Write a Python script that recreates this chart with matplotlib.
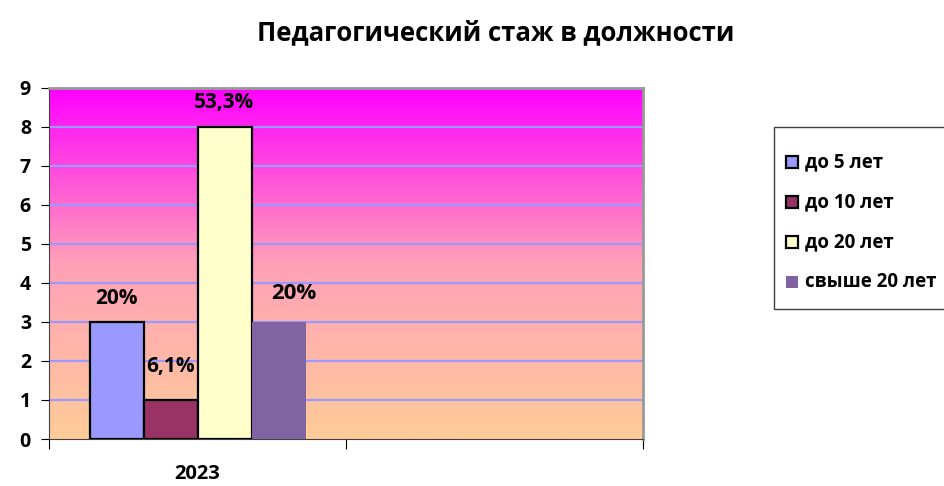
import numpy as np
import matplotlib
matplotlib.use('Agg')
from matplotlib import pyplot as plt
from matplotlib.colors import LinearSegmentedColormap
from matplotlib.patches import Rectangle

plt.rcParams['font.family'] = ['Open Sans', 'DejaVu Sans']
plt.rcParams['font.weight'] = 'bold'

# данные
title = 'Педагогический стаж в должности'
categories = ['2023', '']
series = ['до 5 лет', 'до 10 лет', 'до 20 лет', 'свыше 20 лет']
values = [3, 1, 8, 3]
labels = ['20%', '6,1%', '53,3%', '20%']
colors = ['#9999FF', '#993366', '#FFFFCC', '#8064A2']
edges = ['black', 'black', 'black', 'none']

W, H = 945, 486
fig = plt.figure(figsize=(W / 100, H / 100), dpi=100)
ax = fig.add_axes([0.0519, 0.0967, 0.6285, 0.7223])

# градиентный фон
grad = np.linspace(0, 1, 256).reshape(-1, 1)
cmap = LinearSegmentedColormap.from_list('bg', ['#FFCC99', '#FFA0B8', '#FF00FF'])
ax.imshow(grad, aspect='auto', cmap=cmap, origin='lower',
          extent=[0, 2, 0, 9], zorder=0)

ax.set_xlim(0, 2)
ax.set_ylim(0, 9)

for y in range(1, 9):
    ax.axhline(y, color='#9999FF', lw=1.6, zorder=1)

# столбики
w = 1 / 5.5
offsets = np.array([-1.5, -0.5, 0.5, 1.5]) * w
for i in range(len(series)):
    ax.bar(0.5 + offsets[i], values[i], width=w, color=colors[i],
           edgecolor=edges[i], linewidth=1.6, zorder=3, label=series[i])

# подписи
lab_dx = [0, 0, 0, 0.05]
lab_dy = [0.6, 0.85, 0.62, 0.72]
lab_fs = [15, 15, 15, 16]
for i in range(len(series)):
    ax.text(0.5 + offsets[i] + lab_dx[i], values[i] + lab_dy[i], labels[i],
            ha='center', va='center', fontsize=lab_fs[i], fontweight='bold',
            zorder=4)

ax.set_yticks(range(0, 10))
ax.set_xticks([0, 1, 2])
ax.set_xticklabels([])
ax.set_xticks([0.5, 1.5], minor=True)
ax.set_xticklabels(categories, minor=True)
ax.tick_params(axis='x', which='minor', length=0, pad=18, labelsize=14.5)
ax.tick_params(axis='x', which='major', length=7, direction='out')
ax.tick_params(axis='y', length=6, labelsize=14, pad=7)
for t in ax.get_yticklabels() + ax.get_xticklabels(minor=True):
    t.set_fontweight('bold')

ax.spines['top'].set_color('#999999')
ax.spines['right'].set_color('#999999')
ax.spines['top'].set_linewidth(2)
ax.spines['right'].set_linewidth(2)
ax.spines['left'].set_color('#404040')
ax.spines['bottom'].set_color('#404040')

fig.text(0.525, 0.932, title, ha='center', va='center',
         fontsize=18.5, fontweight='bold')

# легенда (рамка выходит за правый край, как в оригинале)
fig.patches.append(Rectangle((774 / W, 1 - 309 / H), 200 / W, 182 / H,
                             transform=fig.transFigure, facecolor='white',
                             edgecolor='#404040', linewidth=1.0))
for i in range(len(series)):
    yc = 1 - (162 + 40 * i) / H
    fig.patches.append(Rectangle((786 / W, yc - 6 / H), 12 / W, 12 / H,
                                 transform=fig.transFigure,
                                 facecolor=colors[i], edgecolor=edges[i],
                                 linewidth=1.6))
    fig.text(805 / W, yc, series[i], ha='left', va='center',
             fontsize=13.5, fontweight='bold')

plt.savefig('out.png', dpi=100)
